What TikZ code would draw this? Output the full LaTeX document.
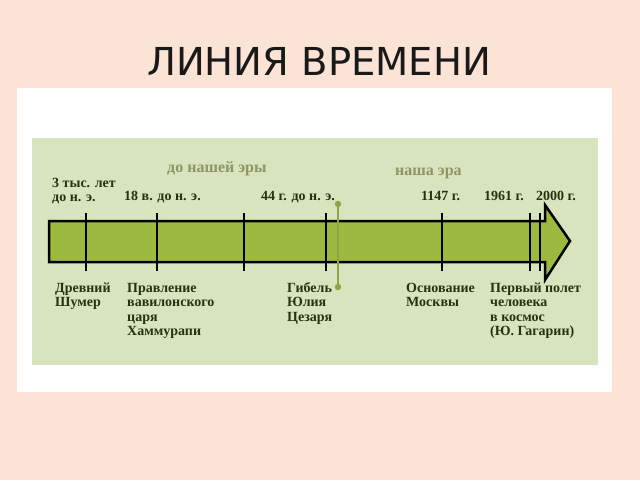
\documentclass[tikz,border=0pt]{standalone}
\usepackage{fontspec}
\setmainfont{Liberation Serif}
\newfontfamily\titlefont{DejaVu Sans}
\definecolor{peach}{HTML}{FBE4D5}
\definecolor{panel}{HTML}{D7E4BD}
\definecolor{arrowfill}{HTML}{9CBA40}
\definecolor{oliveline}{HTML}{8FA443}
\definecolor{eratext}{HTML}{8E9566}
\definecolor{darktext}{HTML}{26320C}
\tikzset{
  lbl/.style={anchor=base west, inner sep=0pt, text=darktext, font=\fontsize{14}{14.5}\selectfont\bfseries},
  era/.style={anchor=base west, inner sep=0pt, text=eratext, font=\fontsize{16}{17}\selectfont\bfseries},
  tickline/.style={line width=2.5pt, black},
}
\newcommand{\mlines}[1]{\begin{tabular}[t]{@{}l@{}}#1\end{tabular}}
\begin{document}
\begin{tikzpicture}[x=1pt,y=-1pt]
\useasboundingbox (0,0) rectangle (640,480);
\fill[peach] (0,0) rectangle (640,480);
\fill[white] (17,88) rectangle (612,392);
\fill[panel] (32,138) rectangle (598,365);
\node[anchor=base, inner sep=0pt, font=\titlefont\fontsize{38.5}{42}\selectfont, text=black!90] (title) at (319,75) {ЛИНИЯ ВРЕМЕНИ};
% arrow
\draw[line width=2.5pt, fill=arrowfill, line join=miter]
  (49,221) -- (545,221) -- (545,205) -- (570,241) -- (545,280) -- (545,262) -- (49,262) -- cycle;
% ticks
\foreach \n/\x in {t1/86, t2/157, t3/244, t4/326, t5/442, t6/530, t7/540} {
  \coordinate (\n a) at (\x,213);
  \coordinate (\n b) at (\x,271);
  \draw[tickline] (\n a) -- (\n b);
}
% olive line (Caesar)
\coordinate (ga) at (338,204);
\coordinate (gb) at (338,287);
\draw[oliveline, line width=2.5pt] (ga) -- (gb);
\fill[oliveline] (ga) circle (3.2);
\fill[oliveline] (gb) circle (3.2);
% era labels
\node[era] (bc) at (167,172) {до нашей эры};
\node[era] (ad) at (395,175) {наша эра};
% top labels
\node[lbl] (l1) at (52,187) {\mlines{3 тыс. лет\\до н. э.}};
\node[lbl] (l2) at (124,200) {18 в. до н. э.};
\node[lbl] (l3) at (261,200) {44 г. до н. э.};
\node[lbl] (l4) at (421,200) {1147 г.};
\node[lbl] (l5) at (484,200) {1961 г.};
\node[lbl] (l6) at (536,200) {2000 г.};
% bottom labels
\node[lbl] (b1) at (55,292) {\mlines{Древний\\Шумер}};
\node[lbl] (b2) at (127,292) {\mlines{Правление\\вавилонского\\царя\\Хаммурапи}};
\node[lbl] (b3) at (287,292) {\mlines{Гибель\\Юлия\\Цезаря}};
\node[lbl] (b4) at (406,292) {\mlines{Основание\\Москвы}};
\node[lbl] (b5) at (490,292) {\mlines{Первый полет\\человека\\в космос\\(Ю. Гагарин)}};
\end{tikzpicture}
\end{document}
